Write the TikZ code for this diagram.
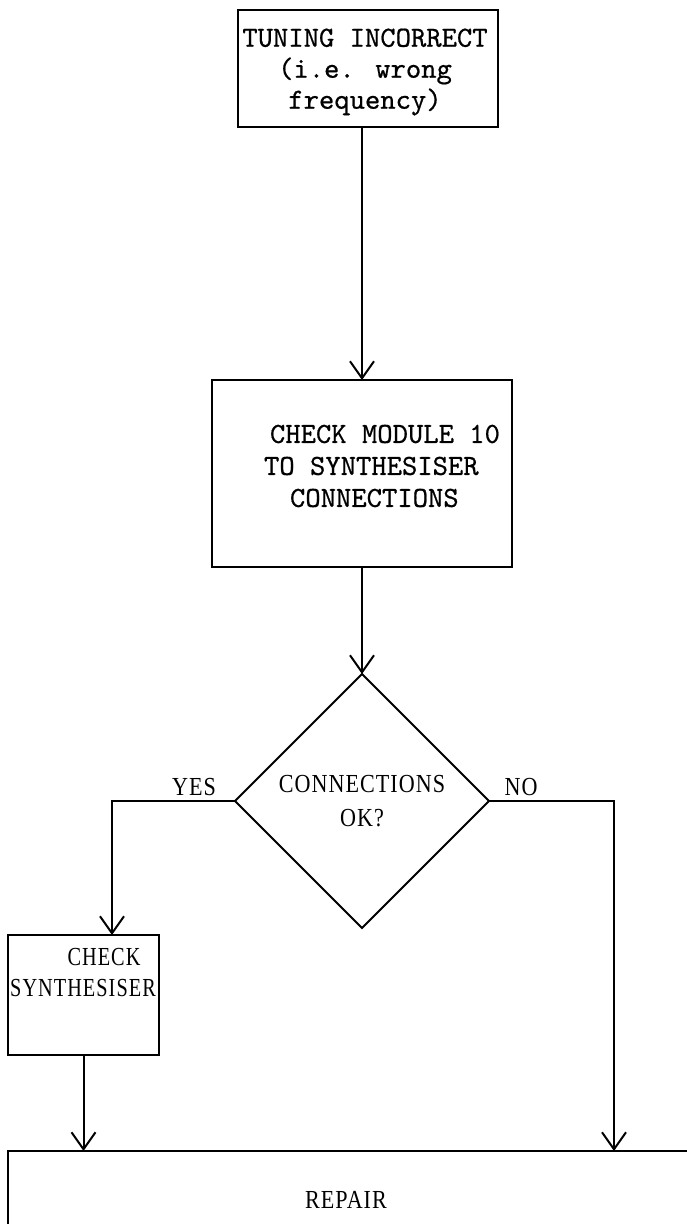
\documentclass[tikz,border=0pt]{standalone}
\usepackage{fontspec}
\usetikzlibrary{shapes.geometric,arrows.meta}
\newfontfamily\typewr[Extension=.otf,FakeBold=0.6]{lmmono10-regular}
\newfontfamily\narrowserif[FakeStretch=0.85,LetterSpace=4]{Liberation Serif}
\newfontfamily\tightserif[FakeStretch=0.78,LetterSpace=4]{Liberation Serif}
\begin{document}
\begin{tikzpicture}[x=0.5pt,y=-0.5pt,
  every node/.style={inner sep=0pt, outer sep=0pt},
  box/.style={draw, line width=1pt, rectangle},
  decision/.style={draw, line width=1pt, diamond, aspect=1},
  flow/.style={line width=1pt, -{Straight Barb[length=8.5pt,width=12pt,line width=1pt]}},
  mono/.style={font=\typewr\fontsize{14.6}{15.5}\selectfont, align=center},
  narrow/.style={font=\narrowserif\fontsize{13}{17}\selectfont, align=center},
  tight/.style={font=\tightserif\fontsize{13}{17}\selectfont}]

\useasboundingbox (0,0) rectangle (686,1224);

% process boxes
\node[box, minimum width=130pt, minimum height=58.5pt] (fault) at (368,68.5) {};
\node[mono] (faulttxt) at (365,72) {TUNING INCORRECT\\(i.e. wrong\\frequency)};

\node[box, minimum width=150pt, minimum height=93.5pt] (module) at (362,473.5) {};
\node[mono, align=left, font=\typewr\fontsize{14.6}{16}\selectfont] (moduletxt) at (382,466)
  {\hspace*{3pt}CHECK MODULE 10\\TO SYNTHESISER\\\hspace*{13pt}CONNECTIONS};

% decision
\node[decision, narrow, minimum width=127pt, minimum height=127pt] (ok) at (362,801)
  {CONNECTIONS\\OK?};

\node[box, minimum width=75.5pt, minimum height=60pt] (synth) at (83.5,995) {};
\node[tight] (checktxt) at (104,957) {CHECK};
\node[tight] (synthtxt) at (83,988) {SYNTHESISER};

\node[box, anchor=north west, minimum width=400pt, minimum height=100pt] (repair) at (8,1151) {};
\node[narrow] (repairtxt) at (346,1200) {REPAIR};

% branch labels
\node[narrow] (yes) at (194,787) {YES};
\node[narrow] (no) at (521,787) {NO};

% connectors
\coordinate (yesbend) at (112,801);
\coordinate (nobend) at (614,801);
\draw[flow] (fault.south -| module.north) -- (module.north);
\draw[flow] (module.south) -- (ok.north);
\draw[flow] (ok.west) -- (yesbend) -- (yesbend |- synth.north);
\draw[flow] (ok.east) -- (nobend) -- (nobend |- repair.north);
\draw[flow] (synth.south) -- (synth.south |- repair.north);
\end{tikzpicture}
\end{document}
